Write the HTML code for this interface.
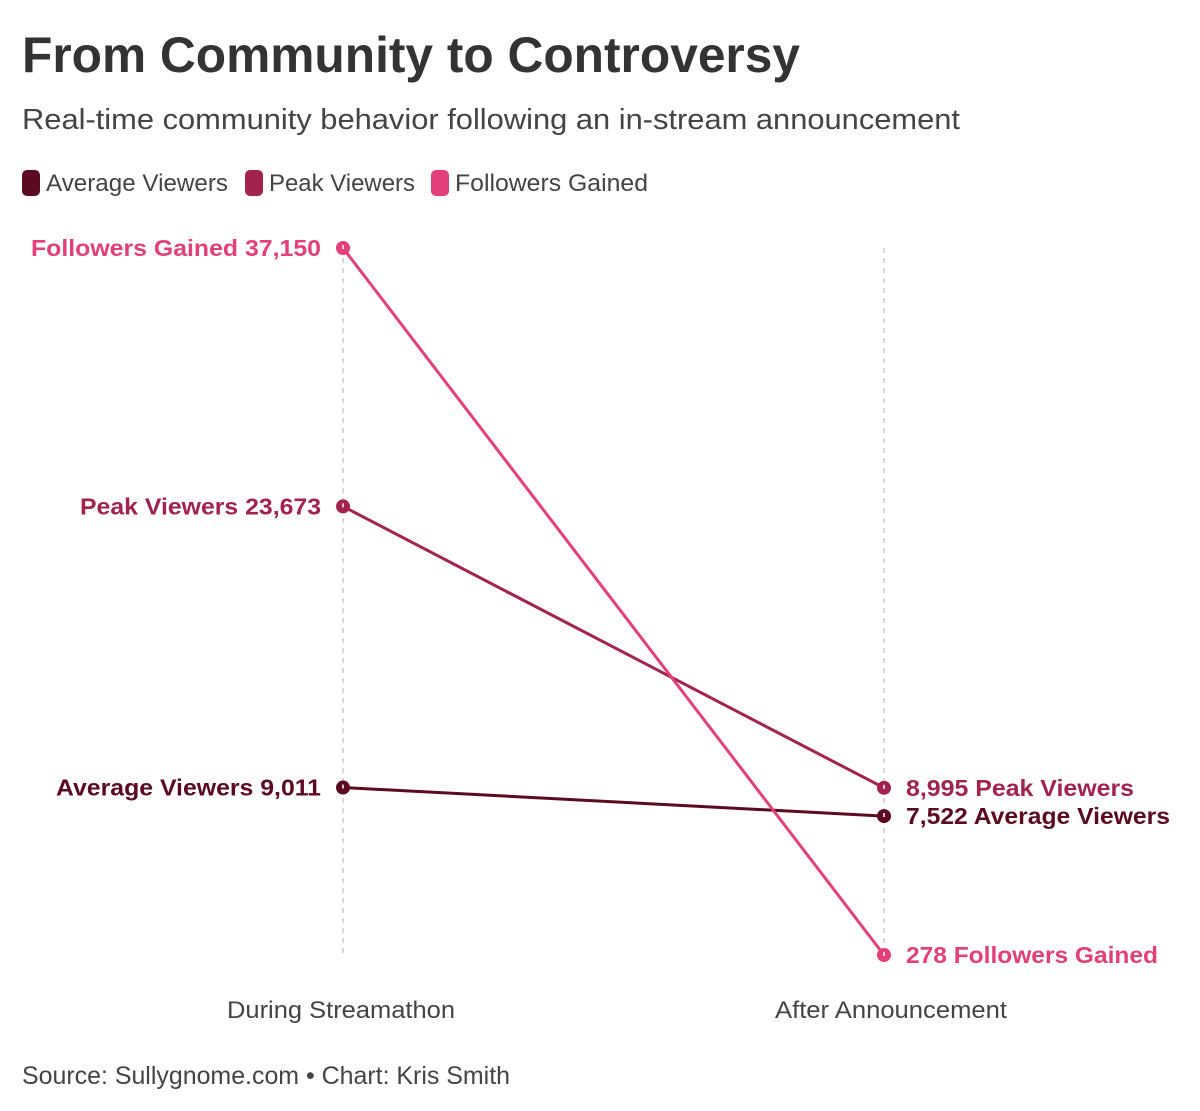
<!DOCTYPE html>
<html><head><meta charset="utf-8"><style>
body{margin:0;background:#fff}
svg{display:block;font-family:"Liberation Sans",sans-serif}
</style></head><body>
<svg id="chart" width="1200" height="1111">
<text x="22" y="72" font-size="50" font-weight="bold" fill="#333" textLength="778" lengthAdjust="spacingAndGlyphs">From Community to Controversy</text>
<text x="22" y="129" font-size="29" fill="#444" textLength="938" lengthAdjust="spacingAndGlyphs">Real-time community behavior following an in-stream announcement</text>
<g id="legend"></g>
<g id="grid"></g>
<g id="lines"></g>
<text x="22" y="1084" font-size="25" fill="#444" textLength="488" lengthAdjust="spacingAndGlyphs">Source: Sullygnome.com • Chart: Kris Smith</text>
</svg>
<script>
const categories = ["During Streamathon", "After Announcement"];
const seriesNames = ["Average Viewers", "Peak Viewers", "Followers Gained"];
const duringValues = [9011, 23673, 37150];
const afterValues = [7522, 8995, 278];
const colors = ["#5c0a22", "#a3234f", "#e3407a"];

const NS = "http://www.w3.org/2000/svg";
function mk(tag, attrs, parent, text){
  const e = document.createElementNS(NS, tag);
  for (const k in attrs) e.setAttribute(k, attrs[k]);
  if (text !== undefined) e.textContent = text;
  parent.appendChild(e);
  return e;
}
const yTop = 248, yMaxVal = 37150, pxPer = (955 - 248) / (37150 - 278);
const y0 = yTop + yMaxVal * pxPer;
function y(v){ return y0 - v * pxPer; }
const xs = [343, 884];
function x(i){ return xs[i]; }
function fmt(v){ return v.toLocaleString("en-US"); }

// legend
const lg = document.getElementById("legend");
const legendX = [22, 245, 431];
const legendW = [182, 146, 193];
seriesNames.forEach((n, i) => {
  const r = mk("rect", {x: legendX[i], y: 170, width: 18, height: 26, rx: 5, fill: colors[i]}, lg);
  
  
  const t = mk("text", {x: legendX[i] + 24, y: 191, "font-size": 24, fill: "#444", textLength: legendW[i], lengthAdjust: "spacingAndGlyphs"}, lg, n);
  
  
});

// grid + category labels
const gg = document.getElementById("grid");
const catW = [228, 232];
const catX = [341, 891];
categories.forEach((c, i) => {
  const l = mk("line", {x1: x(i), x2: x(i), y1: y(yMaxVal), y2: y(0) - 5, stroke: "#ccc", "stroke-width": 1.5, "stroke-dasharray": "5,5"}, gg);
  
  
  const t = mk("text", {x: catX[i], y: 1018, "font-size": 24, fill: "#444", "text-anchor": "middle", textLength: catW[i], lengthAdjust: "spacingAndGlyphs"}, gg, c);
  
  
});

// series
const lgG = document.getElementById("lines");
const leftW = [265, 241, 290];
const rightW = [264, 228, 252];
seriesNames.forEach((n, i) => {
  const a = duringValues[i], b = afterValues[i];
  const ln = mk("line", {x1: x(0), y1: y(a), x2: x(1), y2: y(b), stroke: colors[i], "stroke-width": 3}, lgG);
  
  
  [[0, a], [1, b]].forEach(([k, v]) => {
    const c = mk("circle", {cx: x(k), cy: y(v), r: 7, fill: colors[i]}, lgG);
    
    
    mk("line", {x1: x(k), x2: x(k), y1: y(v) - 3, y2: y(v) + 1, stroke: "#fff", "stroke-width": 1.5}, lgG);
  });
  const tl = mk("text", {x: 321, y: y(a) + 8, "font-size": 23, "font-weight": "bold", fill: colors[i], "text-anchor": "end", textLength: leftW[i], lengthAdjust: "spacingAndGlyphs"}, lgG, n + " " + fmt(a));
  
  
  const tr = mk("text", {x: 906, y: y(b) + 8, "font-size": 23, "font-weight": "bold", fill: colors[i], textLength: rightW[i], lengthAdjust: "spacingAndGlyphs"}, lgG, fmt(b) + " " + n);
  
  
});
</script>
</body></html>
